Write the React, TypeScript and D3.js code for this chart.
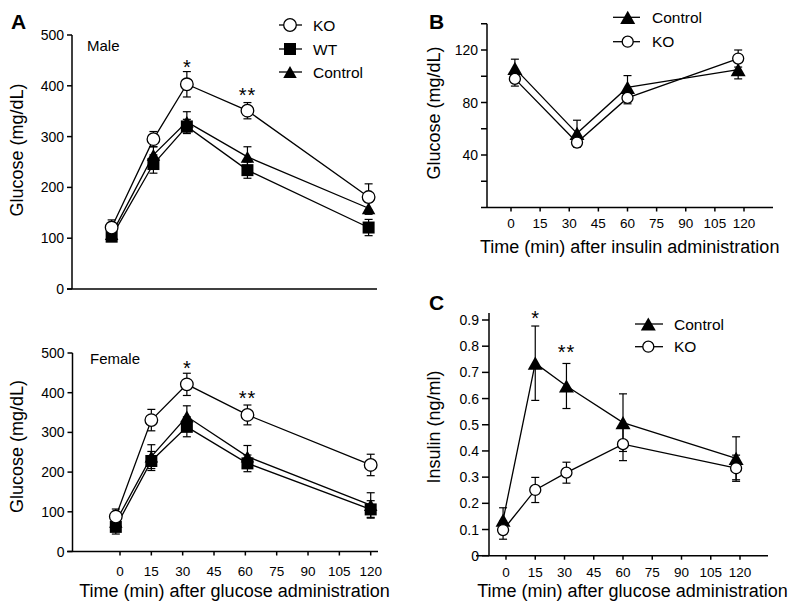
import React from "react";
import * as d3 from "d3";

// ---------- Data ----------
// Panel A (male) glucose tolerance
const maleTimes = [-4, 16, 32, 61, 119];
const maleKO = [121, 295, 403, 351, 181];
const maleKOErr = [15, 15, 25, 16, 26];
const maleWT = [103, 246, 320, 234, 121];
const maleWTErr = [8, 18, 14, 16, 16];
const maleCtrl = [108, 264, 329, 260, 159];
const maleCtrlErr = [8, 16, 20, 20, 12];

// Panel A (female) glucose tolerance
const femaleTimes = [-2, 15, 32, 61, 120];
const femaleKO = [88, 331, 421, 344, 218];
const femaleKOErr = [19, 27, 28, 25, 27];
const femaleWT = [62, 228, 314, 222, 106];
const femaleWTErr = [18, 24, 25, 21, 22];
const femaleCtrl = [75, 239, 340, 239, 117];
const femaleCtrlErr = [15, 30, 27, 28, 31];

// Panel B insulin tolerance
const ittTimes = [2, 34, 60, 117];
const ittCtrl = [106, 56.5, 91.5, 105];
const ittCtrlErr = [7, 10, 9, 7];
const ittKO = [98, 49.5, 83.5, 113.5];
const ittKOErr = [5.5, 3.5, 4.5, 6.5];

// Panel C insulin
const insTimes = [-1.5, 15, 31, 60, 118];
const insCtrl = [0.136, 0.735, 0.648, 0.508, 0.372];
const insCtrlErr = [0.047, 0.142, 0.086, 0.11, 0.082];
const insKO = [0.098, 0.251, 0.317, 0.426, 0.334];
const insKOErr = [0.035, 0.048, 0.04, 0.063, 0.05];

// Ticks
const timeTicks = [0, 15, 30, 45, 60, 75, 90, 105, 120];
const glucoseTicksA = [0, 100, 200, 300, 400, 500];
const glucoseTicksB = [20, 40, 60, 80, 100, 120, 140];
const glucoseLabelsB = [40, 80, 120];
const insulinTicks = [0, 0.1, 0.2, 0.3, 0.4, 0.5, 0.6, 0.7, 0.8, 0.9];

const FONT = "'Liberation Sans', Arial, Helvetica, sans-serif";

type Kind = "circle" | "square" | "triangle";

function Marker({ kind, x, y, size }: { kind: Kind; x: number; y: number; size: number }) {
  if (kind === "circle") {
    return <circle cx={x} cy={y} r={size / 2} fill="#fff" stroke="#000" strokeWidth={1.3} />;
  }
  if (kind === "square") {
    return <rect x={x - size / 2} y={y - size / 2} width={size} height={size} fill="#000" />;
  }
  const h = size * 0.88;
  const p = d3.path();
  p.moveTo(x, y - h / 2);
  p.lineTo(x + size / 2, y + h / 2);
  p.lineTo(x - size / 2, y + h / 2);
  p.closePath();
  return <path d={p.toString()} fill="#000" />;
}

type Series = { times: number[]; values: number[]; errs: number[]; kind: Kind; size: number };

function SeriesLines({ series, x, y }: { series: Series[]; x: any; y: any }) {
  return (
    <g>
      {series.map((s, si) => {
        const gen = d3
          .line<number>()
          .x((_, i) => x(s.times[i]))
          .y((v) => y(v));
        return <path key={"l" + si} d={gen(s.values) || ""} fill="none" stroke="#000" strokeWidth={1.3} />;
      })}
      {series.map((s, si) => (
        <g key={"e" + si}>
          {s.values.map((v, i) => {
            const cx = x(s.times[i]);
            const y1 = y(v - s.errs[i]);
            const y2 = y(v + s.errs[i]);
            return (
              <g key={i} stroke="#000" strokeWidth={1.2}>
                <line x1={cx} x2={cx} y1={y1} y2={y2} />
                <line x1={cx - 4} x2={cx + 4} y1={y1} y2={y1} />
                <line x1={cx - 4} x2={cx + 4} y1={y2} y2={y2} />
              </g>
            );
          })}
        </g>
      ))}
      {series.map((s, si) => (
        <g key={"m" + si}>
          {s.values.map((v, i) => (
            <Marker key={i} kind={s.kind} x={x(s.times[i])} y={y(v)} size={s.size} />
          ))}
        </g>
      ))}
    </g>
  );
}

function LegendRow({ kind, x, y, size, label, x0, x1, tx }: any) {
  return (
    <g>
      <line x1={x0} x2={x1} y1={y} y2={y} stroke="#000" strokeWidth={1.3} />
      <Marker kind={kind} x={x} y={y} size={size} />
      <text x={tx} y={y} dominantBaseline="central" fontSize={15.5} fontFamily={FONT}>
        {label}
      </text>
    </g>
  );
}

export default function App() {
  const xA = d3.scaleLinear().domain([0, 120]).range([120, 370.7]);
  const yAtop = d3.scaleLinear().domain([0, 500]).range([289, 35]);
  const yAbot = d3.scaleLinear().domain([0, 500]).range([551.5, 353]);
  const xB = d3.scaleLinear().domain([0, 120]).range([511, 744]);
  const yB = d3.scaleLinear().domain([0, 120]).range([207.5, 50]);
  const xC = d3.scaleLinear().domain([0, 120]).range([506, 740]);
  const yC = d3.scaleLinear().domain([0, 0.9]).range([555.7, 320]);

  const maleSeries: Series[] = [
    { times: maleTimes, values: maleWT, errs: maleWTErr, kind: "square", size: 12 },
    { times: maleTimes, values: maleCtrl, errs: maleCtrlErr, kind: "triangle", size: 13.5 },
    { times: maleTimes, values: maleKO, errs: maleKOErr, kind: "circle", size: 12.6 },
  ];
  const femaleSeries: Series[] = [
    { times: femaleTimes, values: femaleWT, errs: femaleWTErr, kind: "square", size: 12 },
    { times: femaleTimes, values: femaleCtrl, errs: femaleCtrlErr, kind: "triangle", size: 13.5 },
    { times: femaleTimes, values: femaleKO, errs: femaleKOErr, kind: "circle", size: 12.6 },
  ];
  const ittSeries: Series[] = [
    { times: ittTimes, values: ittCtrl, errs: ittCtrlErr, kind: "triangle", size: 15 },
    { times: ittTimes, values: ittKO, errs: ittKOErr, kind: "circle", size: 11 },
  ];
  const insSeries: Series[] = [
    { times: insTimes, values: insCtrl, errs: insCtrlErr, kind: "triangle", size: 15 },
    { times: insTimes, values: insKO, errs: insKOErr, kind: "circle", size: 11 },
  ];

  const axisStroke = { stroke: "#000", strokeWidth: 1.5 };

  const yAxis = (scale: any, ax: number, ticks: number[], labels: number[], fmt: (v: number) => string, tickLen: number, top: number, bottom: number) => (
    <g>
      <line x1={ax} x2={ax} y1={top} y2={bottom} {...axisStroke} />
      {ticks.map((t) => (
        <line key={"t" + t} x1={ax - tickLen} x2={ax} y1={scale(t)} y2={scale(t)} {...axisStroke} />
      ))}
      {labels.map((t) => (
        <text key={"l" + t} x={ax - tickLen - 3} y={scale(t)} textAnchor="end" dominantBaseline="central" fontSize={14} fontFamily={FONT}>
          {fmt(t)}
        </text>
      ))}
    </g>
  );

  const xAxis = (scale: any, ay: number, x0: number, x1: number, withTicks: boolean, labelBase: number) => (
    <g>
      <line x1={x0} x2={x1} y1={ay} y2={ay} {...axisStroke} />
      {withTicks &&
        timeTicks.map((t) => (
          <g key={t}>
            <line x1={scale(t)} x2={scale(t)} y1={ay} y2={ay + 4} {...axisStroke} />
            <text x={scale(t)} y={labelBase} textAnchor="middle" fontSize={13.5} fontFamily={FONT}>
              {t}
            </text>
          </g>
        ))}
    </g>
  );

  const yTitle = (x: number, y: number, label: string) => (
    <text transform={`translate(${x},${y}) rotate(-90)`} textAnchor="middle" fontSize={18} fontFamily={FONT}>
      {label}
    </text>
  );

  const star = (x: number, y: number, s: string) => (
    <text x={x} y={y} textAnchor="middle" fontSize={20} fontFamily={FONT} letterSpacing={s.length > 1 ? 1 : 0}>
      {s}
    </text>
  );

  return (
    <svg width={800} height={611} style={{ position: "absolute", left: 0, top: 0, background: "#fff" }}>
      <rect width={800} height={611} fill="#fff" />

      {/* Panel letters */}
      <text x={11} y={28.5} fontSize={21} fontWeight="bold" fontFamily={FONT}>A</text>
      <text x={429} y={28.5} fontSize={21} fontWeight="bold" fontFamily={FONT}>B</text>
      <text x={429} y={310} fontSize={21} fontWeight="bold" fontFamily={FONT}>C</text>

      {/* ---- Panel A male ---- */}
      {yAxis(yAtop, 72, glucoseTicksA, glucoseTicksA, (v) => String(v), 5, 35, 289)}
      {xAxis(xA, 289, 67, 377, false, 0)}
      {yTitle(23, 150, "Glucose (mg/dL)")}
      <text x={87} y={45} dominantBaseline="central" fontSize={15} fontFamily={FONT}>Male</text>
      <SeriesLines series={maleSeries} x={xA} y={yAtop} />
      {star(xA(maleTimes[2]), yAtop(maleKO[2] + maleKOErr[2]) + 2.4, "*")}
      {star(xA(maleTimes[3]), yAtop(maleKO[3] + maleKOErr[3]) - 0.2, "**")}
      <LegendRow kind="circle" x={290} y={25} size={12.6} label="KO" x0={279} x1={302} tx={313} />
      <LegendRow kind="square" x={290} y={49} size={12} label="WT" x0={279} x1={302} tx={313} />
      <LegendRow kind="triangle" x={290} y={72} size={13.5} label="Control" x0={279} x1={302} tx={313} />

      {/* ---- Panel A female ---- */}
      {yAxis(yAbot, 72.5, glucoseTicksA, glucoseTicksA, (v) => String(v), 5, 353, 551.5)}
      {xAxis(xA, 551.5, 67, 378, true, 576)}
      {yTitle(23, 446.5, "Glucose (mg/dL)")}
      <text x={90} y={358} dominantBaseline="central" fontSize={15} fontFamily={FONT}>Female</text>
      <SeriesLines series={femaleSeries} x={xA} y={yAbot} />
      {star(xA(femaleTimes[2]), yAbot(femaleKO[2] + femaleKOErr[2]) + 1.4, "*")}
      {star(xA(femaleTimes[3]), yAbot(femaleKO[3] + femaleKOErr[3]) - 0.3, "**")}
      <text x={234.5} y={597} textAnchor="middle" fontSize={18} fontFamily={FONT}>
        Time (min) after glucose administration
      </text>

      {/* ---- Panel B ---- */}
      {yAxis(yB, 487, glucoseTicksB, glucoseLabelsB, (v) => String(v), 6, yB(140), 207.5)}
      {xAxis(xB, 207.5, 481, 773, true, 228.3)}
      {yTitle(440, 113, "Glucose (mg/dL)")}
      <SeriesLines series={ittSeries} x={xB} y={yB} />
      <LegendRow kind="triangle" x={627.7} y={17.3} size={15} label="Control" x0={613} x1={640} tx={652} />
      <LegendRow kind="circle" x={627.7} y={41.7} size={11} label="KO" x0={613} x1={640} tx={652} />
      <text x={629.7} y={253} textAnchor="middle" fontSize={18} fontFamily={FONT}>
        Time (min) after insulin administration
      </text>

      {/* ---- Panel C ---- */}
      {yAxis(yC, 489, insulinTicks, insulinTicks, (v) => (v === 0 ? "0" : d3.format(".1f")(v)), 7, 313, 555.7)}
      {xAxis(xC, 555.7, 476, 768, true, 576.5)}
      {yTitle(439.5, 427, "Insulin (ng/ml)")}
      <SeriesLines series={insSeries} x={xC} y={yC} />
      {star(xC(insTimes[1]), yC(insCtrl[1] + insCtrlErr[1]) - 1.1, "*")}
      {star(xC(insTimes[2]), yC(insCtrl[2] + insCtrlErr[2]) - 4.2, "**")}
      <LegendRow kind="triangle" x={648.3} y={324} size={15} label="Control" x0={635} x1={663} tx={674} />
      <LegendRow kind="circle" x={648.3} y={346.7} size={11} label="KO" x0={635} x1={663} tx={674} />
      <text x={632.5} y={596.5} textAnchor="middle" fontSize={18} fontFamily={FONT}>
        Time (min) after glucose administration
      </text>
    </svg>
  );
}
